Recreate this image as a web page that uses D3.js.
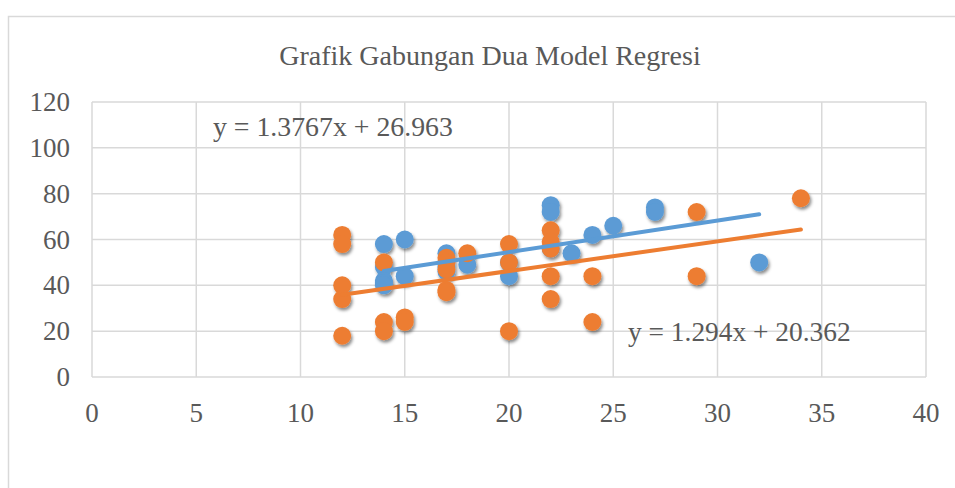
<!DOCTYPE html>
<html>
<head>
<meta charset="utf-8">
<script src="https://d3js.org/d3.v7.min.js"></script>
<style>
  body { margin: 0; background: #fff; }
  text { font-family: "Liberation Serif", "Times New Roman", serif; fill: #595959; }
</style>
</head>
<body>
<svg width="955" height="488"></svg>
<script>
var svg = d3.select("svg"),
    width = +svg.attr("width"),
    height = +svg.attr("height");

// series 1 (blue) and series 2 (orange)
var blueX = [14, 14, 14, 14, 14, 15, 15, 17, 17, 17, 18, 20, 20, 22, 22, 22, 23, 24, 25, 27, 27, 32];
var blueY = [58, 48, 42, 41, 40, 60, 44, 54, 48, 46, 49, 50, 44, 75, 72, 56, 54, 62, 66, 74, 72, 50];

var orangeX = [12, 12, 12, 12, 12, 14, 14, 14, 15, 15, 17, 17, 17, 17, 17, 18, 20, 20, 20, 22, 22, 22, 22, 22, 24, 24, 29, 29, 34];
var orangeY = [62, 58, 40, 34, 18, 50, 24, 20, 26, 24, 52, 50, 47, 38, 37, 54, 58, 50, 20, 64, 59, 56, 44, 34, 44, 24, 72, 44, 78];

// trend lines: [slope, intercept, xStart, xEnd]
var blueTrend = [1.3767, 26.963, 14, 32];
var orangeTrend = [1.294, 20.362, 12, 34];

var xTicks = [0, 5, 10, 15, 20, 25, 30, 35, 40];
var yTicks = [0, 20, 40, 60, 80, 100, 120];

var title = "Grafik Gabungan Dua Model Regresi";
var blueLabel = "y = 1.3767x + 26.963";
var orangeLabel = "y = 1.294x + 20.362";

var blue = "#5b9bd5", orange = "#ed7d31", grid = "#d9d9d9";

var x = d3.scaleLinear().domain([0, 40]).range([92, 926]);
var y = d3.scaleLinear().domain([0, 120]).range([377, 102]);

// drop shadow for markers
var defs = svg.append("defs");
var f = defs.append("filter").attr("id", "shadow")
    .attr("x", "-50%").attr("y", "-50%").attr("width", "200%").attr("height", "200%");
f.append("feDropShadow").attr("dx", 1.5).attr("dy", 2.5).attr("stdDeviation", 1.8)
    .attr("flood-color", "#000").attr("flood-opacity", 0.45);

// chart frame
svg.append("rect")
    .attr("x", 8.5).attr("y", 16.5)
    .attr("width", 960).attr("height", 480)
    .attr("fill", "#fff").attr("stroke", grid).attr("stroke-width", 1.5);

function label(sel, str, px, py, size, anchor) {
  sel.append("text")
    .attr("x", px).attr("y", py)
    .attr("text-anchor", anchor)
    .style("font-size", size + "px")
    .text(str);
}

// gridlines
svg.append("g").selectAll("line")
    .data(yTicks).enter().append("line")
    .attr("x1", x(0)).attr("x2", x(40))
    .attr("y1", function(d) { return y(d); }).attr("y2", function(d) { return y(d); })
    .attr("stroke", grid).attr("stroke-width", 1.5);

svg.append("g").selectAll("line")
    .data(xTicks).enter().append("line")
    .attr("y1", y(0)).attr("y2", y(120))
    .attr("x1", function(d) { return x(d); }).attr("x2", function(d) { return x(d); })
    .attr("stroke", grid).attr("stroke-width", 1.5);

// tick labels
var yl = svg.append("g");
yTicks.forEach(function(d) { label(yl, d, 70, y(d) + 9, 27, "end"); });
var xl = svg.append("g");
xTicks.forEach(function(d) { label(xl, d, x(d), 422, 27, "middle"); });

label(svg, title, 490, 65, 28, "middle");

// markers
var pts = svg.append("g").attr("filter", "url(#shadow)");
pts.selectAll("circle.b")
    .data(blueX).enter().append("circle")
    .attr("class", "b")
    .attr("cx", function(d) { return x(d); })
    .attr("cy", function(d, i) { return y(blueY[i]); })
    .attr("r", 9)
    .attr("fill", blue);

pts.selectAll("circle.o")
    .data(orangeX).enter().append("circle")
    .attr("class", "o")
    .attr("cx", function(d) { return x(d); })
    .attr("cy", function(d, i) { return y(orangeY[i]); })
    .attr("r", 9)
    .attr("fill", orange);

// trend lines
function trend(t, color) {
  var line = d3.line()
      .x(function(d) { return x(d); })
      .y(function(d) { return y(t[0] * d + t[1]); });
  svg.append("path")
      .datum([t[2], t[3]])
      .attr("d", line)
      .attr("fill", "none")
      .attr("stroke", color)
      .attr("stroke-width", 4)
      .attr("stroke-linecap", "round");
}
trend(blueTrend, blue);
trend(orangeTrend, orange);

label(svg, blueLabel, 213, 136, 27.8, "start");
label(svg, orangeLabel, 628, 341, 27.4, "start");
</script>
</body>
</html>
